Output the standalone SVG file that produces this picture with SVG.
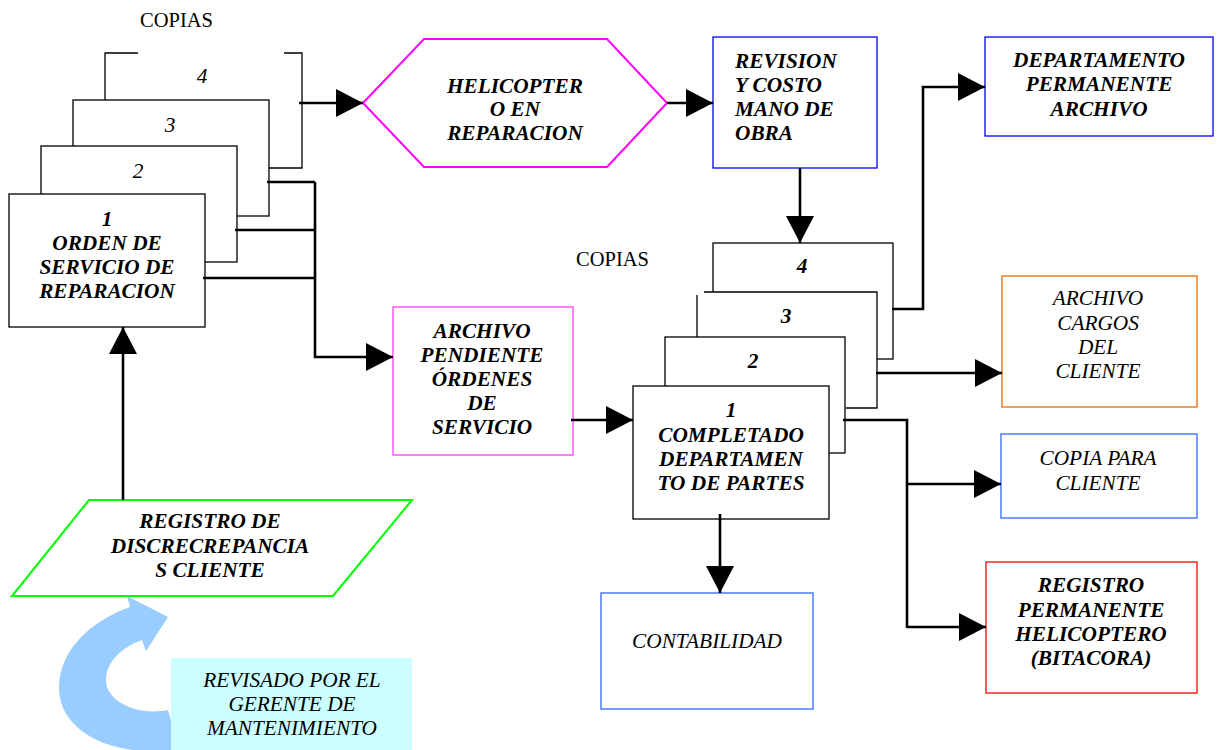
<svg xmlns="http://www.w3.org/2000/svg" width="1219" height="750" viewBox="0 0 1219 750">
  <defs>
    <style>
      text { font-family: "Liberation Serif", "Times New Roman", serif; font-size: 21.3px; fill: #000; }
      .bi { font-weight: bold; font-style: italic; text-anchor: middle; }
      .it { font-style: italic; text-anchor: middle; }
      .plain { font-size: 20.5px; }
      .sheet { fill: #fff; stroke: #000; stroke-width: 1.3; }
      .edge { fill: none; stroke: #000; stroke-width: 1.3; }
      .conn { fill: none; stroke: #000; stroke-width: 2.6; }
      .arrow { marker-end: url(#head); }
    </style>
    <marker id="head" viewBox="0 0 27 28" refX="27" refY="14" markerWidth="27" markerHeight="28" markerUnits="userSpaceOnUse" orient="auto">
      <path d="M0,0 L27,14 L0,28 Z" fill="#000"/>
    </marker>
  </defs>

  <rect width="1219" height="750" fill="#fff"/>

  <!-- first set of copies: service order -->
  <g id="copias-label-1">
    <text class="plain" x="140" y="27">COPIAS</text>
  </g>
  <g id="orden-copy-4">
    <rect x="105" y="53" width="197" height="115" fill="#fff"/>
    <path class="edge" d="M138,53 H105 V100 M284,53 H302 V168 H269"/>
    <text class="it" x="202" y="83">4</text>
  </g>
  <g id="orden-copy-3">
    <rect class="sheet" x="73" y="100" width="196" height="116"/>
    <text class="it" x="170" y="132">3</text>
  </g>
  <g id="orden-copy-2">
    <rect class="sheet" x="41" y="146" width="196" height="116"/>
    <text class="it" x="138" y="178">2</text>
  </g>
  <g id="orden-servicio">
    <rect class="sheet" x="9" y="194" width="196" height="133"/>
    <text class="bi" x="107" y="226">1</text>
    <text class="bi" x="107" y="250">ORDEN DE</text>
    <text class="bi" x="107" y="274">SERVICIO DE</text>
    <text class="bi" x="107" y="298">REPARACION</text>
  </g>

  <!-- helicopter in repair -->
  <g id="helicoptero">
    <polygon points="363,103 424,39 607,39 667,103 607,167 424,167" fill="#fff" stroke="#ff00ff" stroke-width="2"/>
    <text class="bi" x="515" y="93">HELICOPTER</text>
    <text class="bi" x="515" y="116">O EN</text>
    <text class="bi" x="515" y="140">REPARACION</text>
  </g>

  <g id="revision">
    <rect x="713" y="37" width="164" height="131" fill="#fff" stroke="#0000ff" stroke-width="1.3"/>
    <text class="bi" x="735" y="68" text-anchor="start" style="text-anchor:start">REVISION</text>
    <text class="bi" x="735" y="92" style="text-anchor:start">Y COSTO</text>
    <text class="bi" x="735" y="116" style="text-anchor:start">MANO DE</text>
    <text class="bi" x="735" y="140" style="text-anchor:start">OBRA</text>
  </g>

  <g id="archivo-pendiente">
    <rect x="393" y="307" width="180" height="148" fill="#fff" stroke="#ff00ff" stroke-width="1"/>
    <text class="bi" x="482" y="338">ARCHIVO</text>
    <text class="bi" x="482" y="362">PENDIENTE</text>
    <text class="bi" x="482" y="386">ÓRDENES</text>
    <text class="bi" x="482" y="410">DE</text>
    <text class="bi" x="482" y="434">SERVICIO</text>
  </g>

  <!-- second set of copies: parts department -->
  <g id="copias-label-2">
    <text class="plain" x="576" y="266">COPIAS</text>
  </g>
  <g id="partes-copy-4">
    <rect class="sheet" x="713" y="243" width="180" height="116"/>
    <text class="bi" x="802" y="273">4</text>
  </g>
  <g id="partes-copy-3">
    <rect x="697" y="292" width="180" height="116" fill="#fff"/>
    <path class="edge" d="M704,292 H877 V408 H846 M697,295 V337"/>
    <text class="bi" x="786" y="323">3</text>
  </g>
  <g id="partes-copy-2">
    <rect class="sheet" x="665" y="337" width="180" height="116"/>
    <text class="bi" x="753" y="368">2</text>
  </g>
  <g id="completado-partes">
    <rect class="sheet" x="633" y="386" width="196" height="133"/>
    <text class="bi" x="731" y="417">1</text>
    <text class="bi" x="731" y="442">COMPLETADO</text>
    <text class="bi" x="731" y="466">DEPARTAMEN</text>
    <text class="bi" x="731" y="490">TO DE PARTES</text>
  </g>

  <!-- destinations -->
  <g id="departamento-archivo">
    <rect x="985" y="37" width="228" height="99" fill="#fff" stroke="#0000ff" stroke-width="1.3"/>
    <text class="bi" x="1099" y="67">DEPARTAMENTO</text>
    <text class="bi" x="1099" y="91">PERMANENTE</text>
    <text class="bi" x="1099" y="116">ARCHIVO</text>
  </g>
  <g id="archivo-cargos">
    <rect x="1002" y="276" width="195" height="131" fill="#fff" stroke="#e46c0a" stroke-width="1.3"/>
    <text class="it" x="1098" y="305" fill="#1a1a1a">ARCHIVO</text>
    <text class="it" x="1098" y="330">CARGOS</text>
    <text class="it" x="1098" y="354">DEL</text>
    <text class="it" x="1098" y="378">CLIENTE</text>
  </g>
  <g id="copia-cliente">
    <rect x="1001" y="434" width="196" height="84" fill="#fff" stroke="#3366ff" stroke-width="1.3"/>
    <text class="it" x="1098" y="465">COPIA PARA</text>
    <text class="it" x="1098" y="490">CLIENTE</text>
  </g>
  <g id="registro-bitacora">
    <rect x="986" y="562" width="211" height="131" fill="#fff" stroke="#ff0000" stroke-width="1.3"/>
    <text class="bi" x="1091" y="592">REGISTRO</text>
    <text class="bi" x="1091" y="617">PERMANENTE</text>
    <text class="bi" x="1091" y="641">HELICOPTERO</text>
    <text class="bi" x="1091" y="665">(BITACORA)</text>
  </g>
  <g id="contabilidad">
    <rect x="601" y="593" width="212" height="116" fill="#fff" stroke="#3366ff" stroke-width="1.3"/>
    <text class="it" x="707" y="648">CONTABILIDAD</text>
  </g>

  <!-- customer discrepancy log -->
  <g id="registro-discrepancias">
    <polygon points="89,500 412,500 333,596 12,596" fill="#fff" stroke="#00ff00" stroke-width="2"/>
    <text class="bi" x="210" y="528">REGISTRO DE</text>
    <text class="bi" x="210" y="553">DISCRECREPANCIA</text>
    <text class="bi" x="210" y="577">S CLIENTE</text>
  </g>

  <!-- maintenance manager review -->
  <g id="revisado-gerente">
    <path d="M178,747 L168,710 C140,716 106,703 106,680 C106,662 122,647 142,640 L146,651 L168,617 L127,596 L130,607 C88,622 59,652 59,688 C59,726 100,751 150,751 L180,750 Z" fill="#99ccff"/>
    <rect x="171" y="658" width="241" height="92" fill="#ccffff"/>
    <text class="it" x="292" y="687">REVISADO POR EL</text>
    <text class="it" x="292" y="711">GERENTE DE</text>
    <text class="it" x="292" y="735">MANTENIMIENTO</text>
  </g>

  <!-- connectors -->
  <g id="connectors">
    <path class="conn arrow" d="M299,103 H363"/>
    <path class="conn arrow" d="M667,103 H713"/>
    <path class="conn arrow" d="M800,168 V243"/>
    <path class="conn" d="M267,182 H315 M235,230 H315 M203,278 H315"/>
    <path class="conn arrow" d="M315,182 V357 H393"/>
    <path class="conn arrow" d="M571,420 H633"/>
    <path class="conn arrow" d="M123,500 V327"/>
    <path class="conn arrow" d="M892,309 H923 V87 H985"/>
    <path class="conn arrow" d="M876,373 H1002"/>
    <path class="conn" d="M843,420 H907 V628"/>
    <path class="conn arrow" d="M907,484 H1001"/>
    <path class="conn arrow" d="M907,627 H986"/>
    <path class="conn arrow" d="M720,514 V593"/>
  </g>
</svg>
